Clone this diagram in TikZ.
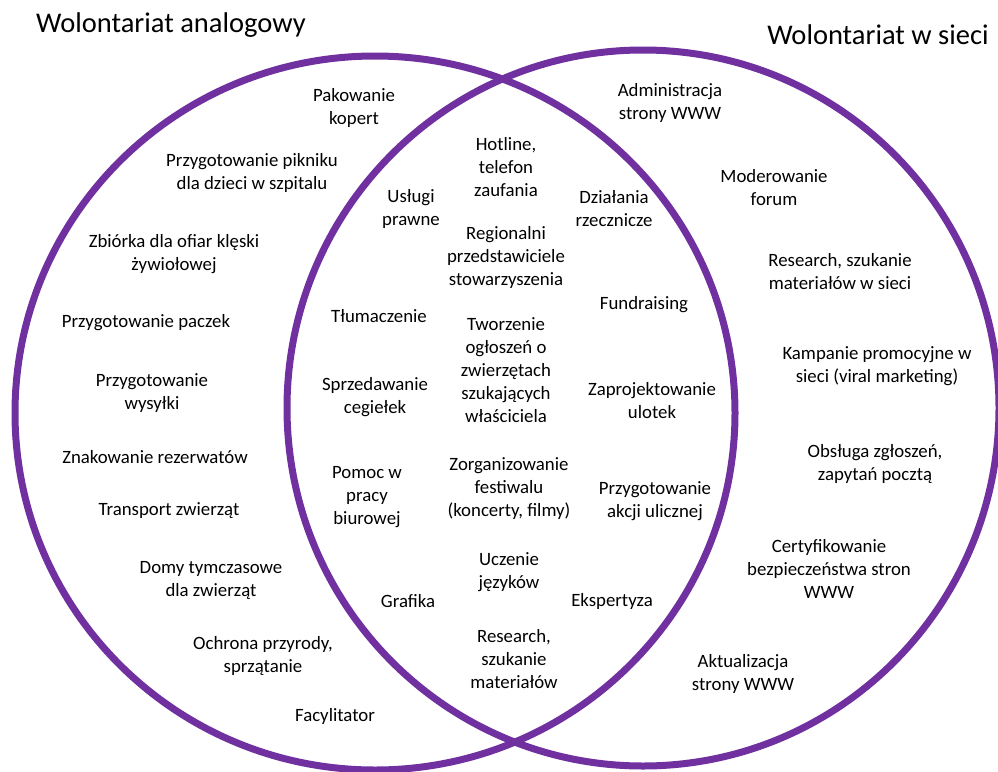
\documentclass[tikz,border=0pt]{standalone}
\usepackage{fontspec}
\setmainfont{Carlito}
\usepackage{tikz}
\definecolor{vennpurple}{HTML}{7030A0}

\begin{document}
\begin{tikzpicture}[x=1pt,y=-1pt]
\tikzset{ring/.style = {draw=vennpurple,line width=7pt}}
\tikzset{item/.style = {align=center,inner sep=0pt,font=\fontsize{18.8}{23}\selectfont}}
\tikzset{title/.style = {inner sep=0pt,font=\fontsize{28.5}{32}\selectfont}}
\useasboundingbox (0,0) rectangle (998,771);
% circles
\draw[ring] (375,413) circle [x radius=360pt, y radius=357pt];
\draw[ring] (643,408) circle [x radius=356pt, y radius=358pt];
% titles
\node[title] (tl) at (171,25) {Wolontariat analogowy};
\node[title] (tr) at (878,35) {Wolontariat w sieci};
% left
\node[item] (l1)  at (354,108) {Pakowanie\\kopert};
\node[item] (l2)  at (252,173) {Przygotowanie pikniku\\dla dzieci w szpitalu};
\node[item] (l3)  at (174,254) {Zbiórka dla ofiar klęski\\żywiołowej};
\node[item] (l4)  at (146,323) {Przygotowanie paczek};
\node[item] (l5)  at (152,393) {Przygotowanie\\wysyłki};
\node[item] (l6)  at (155,457) {Znakowanie rezerwatów};
\node[item] (l7)  at (169,511) {Transport zwierząt};
\node[item] (l8)  at (211,580) {Domy tymczasowe\\dla zwierząt};
\node[item] (l9)  at (263,656) {Ochrona przyrody,\\sprzątanie};
\node[item] (l10) at (335,716) {Facylitator};
% middle
\node[item] (m1)  at (506,167) {Hotline,\\telefon\\zaufania};
\node[item] (m2)  at (411,209) {Usługi\\prawne};
\node[item] (m3)  at (614,209) {Działania\\rzecznicze};
\node[item] (m4)  at (506,257) {Regionalni\\przedstawiciele\\stowarzyszenia};
\node[item] (m5)  at (379,316) {Tłumaczenie};
\node[item] (m6)  at (644,305) {Fundraising};
\node[item] (m7)  at (506,370) {Tworzenie\\ogłoszeń o\\zwierzętach\\szukających\\właściciela};
\node[item] (m8)  at (375,397) {Sprzedawanie\\cegiełek};
\node[item] (m9)  at (652,401) {Zaprojektowanie\\ulotek};
\node[item] (m10) at (367,497) {Pomoc w\\pracy\\biurowej};
\node[item] (m11) at (509,489) {Zorganizowanie\\festiwalu\\(koncerty, filmy)};
\node[item] (m12) at (655,501) {Przygotowanie\\akcji ulicznej};
\node[item] (m13) at (509,572) {Uczenie\\języków};
\node[item] (m14) at (408,601) {Grafika};
\node[item] (m15) at (612,601) {Ekspertyza};
\node[item] (m16) at (514,659) {Research,\\szukanie\\materiałów};
% right
\node[item] (r1) at (670,103) {Administracja\\strony WWW};
\node[item] (r2) at (774,188) {Moderowanie\\forum};
\node[item] (r3) at (840,272) {Research, szukanie\\materiałów w sieci};
\node[item] (r4) at (877,366) {Kampanie promocyjne w\\sieci (viral marketing)};
\node[item] (r5) at (875,464) {Obsługa zgłoszeń,\\zapytań pocztą};
\node[item] (r6) at (829,569) {Certyfikowanie\\bezpieczeństwa stron\\WWW};
\node[item] (r7) at (743,674) {Aktualizacja\\strony WWW};
\end{tikzpicture}
\end{document}
